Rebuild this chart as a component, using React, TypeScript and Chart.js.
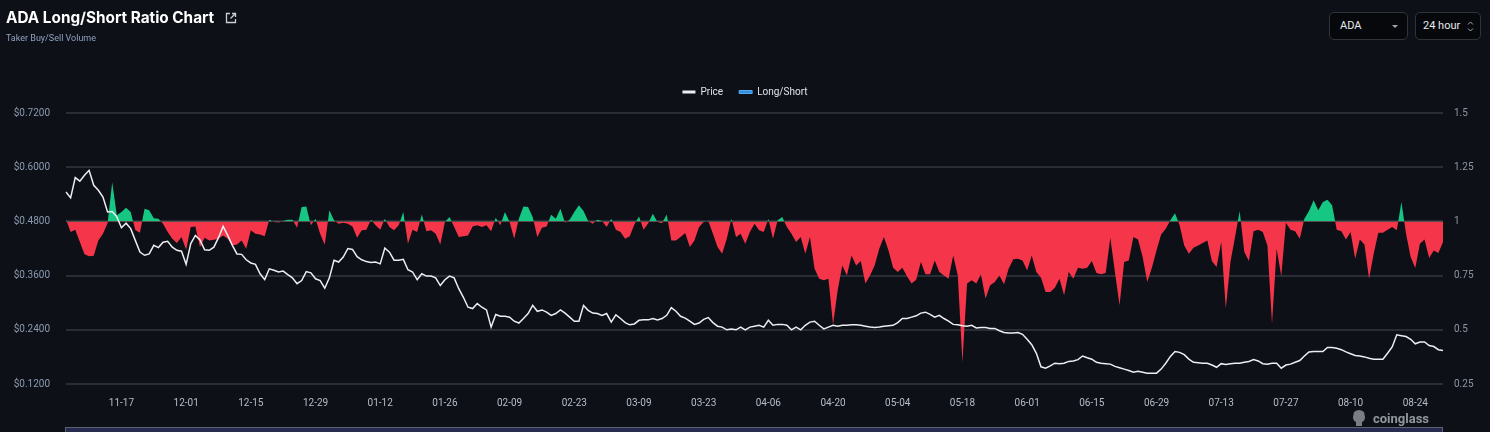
import React, { useEffect, useRef } from "react";
import { Chart, registerables } from "chart.js";

Chart.register(...registerables);

// ---- data -------------------------------------------------------------
const startYear = 2022;
const startMonthIndex = 10; // November
const startDay = 5;

const tickLabels = [
  "11-17", "12-01", "12-15", "12-29", "01-12", "01-26", "02-09", "02-23",
  "03-09", "03-23", "04-06", "04-20", "05-04", "05-18", "06-01", "06-15",
  "06-29", "07-13", "07-27", "08-10", "08-24",
];

const priceTickValues = [0.12, 0.24, 0.36, 0.48, 0.6, 0.72];
const ratioTickValues = [0.25, 0.5, 0.75, 1, 1.25, 1.5];

const priceValues = [
  0.545, 0.532, 0.577, 0.569, 0.582, 0.593, 0.560, 0.549, 0.534, 0.501,
  0.502, 0.490, 0.466, 0.476, 0.464, 0.438, 0.412, 0.405, 0.408, 0.427,
  0.422, 0.434, 0.436, 0.423, 0.416, 0.414, 0.385, 0.431, 0.449, 0.439,
  0.417, 0.416, 0.423, 0.444, 0.469, 0.449, 0.427, 0.408, 0.407, 0.395,
  0.388, 0.385, 0.364, 0.351, 0.375, 0.372, 0.368, 0.370, 0.362, 0.355,
  0.342, 0.349, 0.369, 0.366, 0.353, 0.349, 0.332, 0.355, 0.394, 0.390,
  0.401, 0.420, 0.418, 0.402, 0.395, 0.391, 0.389, 0.390, 0.386, 0.421,
  0.412, 0.394, 0.394, 0.396, 0.373, 0.368, 0.351, 0.364, 0.359, 0.359,
  0.355, 0.338, 0.351, 0.359, 0.355, 0.331, 0.312, 0.290, 0.287, 0.298,
  0.290, 0.284, 0.246, 0.274, 0.270, 0.270, 0.268, 0.259, 0.255, 0.265,
  0.276, 0.294, 0.281, 0.284, 0.279, 0.272, 0.276, 0.284, 0.277, 0.268,
  0.259, 0.259, 0.294, 0.283, 0.277, 0.276, 0.272, 0.276, 0.257, 0.273,
  0.265, 0.256, 0.251, 0.253, 0.261, 0.262, 0.262, 0.265, 0.262, 0.265,
  0.272, 0.289, 0.281, 0.270, 0.266, 0.259, 0.252, 0.255, 0.263, 0.267,
  0.256, 0.248, 0.246, 0.240, 0.242, 0.240, 0.246, 0.240, 0.246, 0.248,
  0.250, 0.246, 0.261, 0.250, 0.252, 0.252, 0.250, 0.240, 0.246, 0.240,
  0.250, 0.257, 0.259, 0.250, 0.242, 0.246, 0.250, 0.248, 0.250, 0.250,
  0.251, 0.251, 0.250, 0.248, 0.246, 0.245, 0.246, 0.248, 0.249, 0.250,
  0.256, 0.265, 0.265, 0.268, 0.271, 0.277, 0.279, 0.274, 0.268, 0.272,
  0.265, 0.259, 0.252, 0.251, 0.249, 0.248, 0.250, 0.244, 0.245, 0.245,
  0.243, 0.243, 0.238, 0.234, 0.233, 0.233, 0.234, 0.230, 0.219, 0.207,
  0.188, 0.158, 0.155, 0.160, 0.166, 0.165, 0.166, 0.170, 0.171, 0.174,
  0.182, 0.178, 0.175, 0.168, 0.166, 0.165, 0.164, 0.159, 0.156, 0.153,
  0.150, 0.146, 0.148, 0.146, 0.144, 0.144, 0.144, 0.153, 0.166, 0.181,
  0.192, 0.190, 0.185, 0.175, 0.168, 0.167, 0.166, 0.166, 0.162, 0.157,
  0.165, 0.163, 0.165, 0.166, 0.166, 0.168, 0.170, 0.174, 0.171, 0.165,
  0.164, 0.166, 0.166, 0.155, 0.162, 0.164, 0.168, 0.172, 0.182, 0.191,
  0.192, 0.192, 0.192, 0.201, 0.201, 0.199, 0.196, 0.191, 0.187, 0.183,
  0.182, 0.180, 0.177, 0.175, 0.175, 0.175, 0.188, 0.202, 0.229, 0.227,
  0.225, 0.219, 0.209, 0.213, 0.213, 0.205, 0.203, 0.196, 0.194,
];

const longShortValues = [
  1.010, 0.951, 0.962, 0.905, 0.848, 0.839, 0.842, 0.912, 0.943, 0.992,
  1.181, 1.028, 1.043, 1.063, 1.043, 0.960, 0.948, 1.058, 1.051, 1.015,
  1.012, 0.989, 0.951, 0.920, 0.900, 0.928, 0.869, 0.974, 0.977, 0.882,
  0.925, 0.912, 0.915, 0.920, 0.935, 0.920, 0.889, 0.894, 0.912, 0.874,
  0.959, 0.943, 0.940, 0.931, 1.008, 0.997, 0.995, 1.002, 1.008, 1.008,
  0.971, 1.066, 1.069, 0.982, 1.012, 0.943, 0.892, 1.051, 1.005, 0.989,
  0.994, 0.989, 0.977, 0.925, 0.959, 0.962, 1.008, 0.982, 0.962, 1.012,
  0.974, 0.959, 0.982, 1.043, 0.897, 0.962, 0.951, 1.032, 0.955, 0.959,
  0.943, 0.894, 0.997, 1.020, 0.974, 0.928, 0.931, 0.935, 0.977, 0.982,
  0.974, 0.982, 0.955, 1.017, 0.982, 1.043, 0.997, 0.920, 1.012, 1.069,
  1.066, 1.020, 0.928, 0.971, 0.977, 1.031, 1.012, 1.058, 0.994, 1.008,
  1.043, 1.074, 1.048, 1.002, 0.989, 1.008, 1.002, 0.974, 1.012, 0.962,
  0.951, 0.920, 0.931, 0.986, 1.023, 0.962, 0.992, 1.035, 0.997, 0.992,
  1.032, 0.912, 0.912, 0.928, 0.946, 0.882, 0.912, 0.974, 0.997, 1.002,
  0.943, 0.882, 0.851, 0.920, 1.012, 0.928, 0.943, 0.897, 0.951, 0.989,
  0.959, 0.951, 1.012, 0.920, 1.005, 1.020, 0.974, 0.943, 0.905, 0.928,
  0.851, 0.928, 0.782, 0.736, 0.728, 0.736, 0.525, 0.682, 0.797, 0.751,
  0.843, 0.797, 0.817, 0.713, 0.751, 0.797, 0.874, 0.928, 0.866, 0.786,
  0.767, 0.786, 0.747, 0.713, 0.731, 0.813, 0.756, 0.756, 0.820, 0.767,
  0.751, 0.736, 0.843, 0.751, 0.350, 0.713, 0.728, 0.713, 0.756, 0.644,
  0.705, 0.720, 0.751, 0.710, 0.782, 0.825, 0.828, 0.820, 0.774, 0.843,
  0.767, 0.740, 0.674, 0.674, 0.694, 0.736, 0.659, 0.767, 0.736, 0.786,
  0.782, 0.786, 0.817, 0.762, 0.756, 0.762, 0.925, 0.767, 0.613, 0.813,
  0.820, 0.928, 0.916, 0.836, 0.720, 0.786, 0.866, 0.940, 0.966, 1.005,
  1.038, 0.982, 0.889, 0.851, 0.879, 0.889, 0.900, 0.912, 0.816, 0.790,
  0.905, 0.598, 0.813, 0.928, 1.048, 0.859, 0.817, 0.955, 0.962, 0.951,
  0.889, 0.528, 0.874, 0.747, 0.994, 0.962, 0.955, 0.920, 1.012, 1.048,
  1.097, 1.051, 1.089, 1.100, 1.074, 0.962, 0.955, 0.916, 0.951, 0.828,
  0.916, 0.894, 0.736, 0.851, 0.948, 0.948, 0.962, 0.974, 0.959, 1.089,
  0.943, 0.836, 0.785, 0.897, 0.916, 0.831, 0.866, 0.854, 0.905,
];

function buildDateLabels(count: number): string[] {
  const out: string[] = [];
  const d = new Date(Date.UTC(startYear, startMonthIndex, startDay));
  for (let i = 0; i < count; i++) {
    const mm = String(d.getUTCMonth() + 1).padStart(2, "0");
    const dd = String(d.getUTCDate()).padStart(2, "0");
    out.push(`${mm}-${dd}`);
    d.setUTCDate(d.getUTCDate() + 1);
  }
  return out;
}

const BG = "#0d1017";
const AXIS_FONT = { family: "Roboto, 'DejaVu Sans', sans-serif", size: 10 };

// adds empty space under the legend, between it and the plot area
const legendGapPlugin = {
  id: "legendGap",
  beforeLayout(chart: any) {
    const lg = chart.legend;
    if (lg && !lg.__gapPatched) {
      const orig = lg.fit.bind(lg);
      lg.fit = () => {
        orig();
        lg.height += 6;
      };
      lg.__gapPatched = true;
    }
  },
};

function ChartCanvas() {
  const ref = useRef<HTMLCanvasElement | null>(null);

  useEffect(() => {
    if (!ref.current) return;
    const labels = buildDateLabels(priceValues.length);
    const chart = new Chart(ref.current, {
      type: "line",
      plugins: [legendGapPlugin],
      data: {
        labels,
        datasets: [
          {
            label: "Price",
            data: priceValues,
            yAxisID: "y",
            borderColor: "#eceef2",
            backgroundColor: "#eceef2",
            borderWidth: 1.5,
            pointRadius: 0,
            tension: 0,
            fill: false,
          },
          {
            label: "Long/Short",
            data: longShortValues,
            yAxisID: "y1",
            borderColor: "rgba(0,0,0,0)",
            backgroundColor: "#2b8fe6",
            borderWidth: 0,
            pointRadius: 0,
            tension: 0,
            fill: { target: { value: 1 }, above: "#16c784", below: "#f5364a" },
          } as any,
        ],
      },
      options: {
        responsive: false,
        animation: false,
        events: [],
        layout: { padding: { top: 71, left: 0, right: 0, bottom: 0 } },
        plugins: {
          tooltip: { enabled: false },
          legend: {
            position: "top",
            align: "center",
            labels: {
              boxWidth: 13,
              boxHeight: 3,
              padding: 16,
              color: "#dfe3ea",
              font: AXIS_FONT,
              generateLabels: (c: any) =>
                (Chart.defaults.plugins.legend.labels.generateLabels as any)(c).map((l: any) =>
                  l.text === "Price"
                    ? { ...l, lineWidth: 0 }
                    : { ...l, lineWidth: 1, strokeStyle: "#5aa9ee" }
                ),
            },
          },
        },
        scales: {
          x: {
            type: "category",
            grid: { display: false, drawTicks: false },
            border: { display: false },
            ticks: {
              autoSkip: false,
              maxRotation: 0,
              minRotation: 0,
              padding: 13,
              color: "#b5bdc9",
              font: AXIS_FONT,
              callback: (_v: any, index: number) =>
                tickLabels.includes(labels[index]) ? labels[index] : "",
            },
            afterFit: (s: any) => {
              s.height = 48;
            },
          },
          y: {
            position: "left",
            min: 0.12,
            max: 0.72,
            grid: { color: "#2a2d35", lineWidth: 2, drawTicks: false },
            border: { display: false },
            ticks: {
              padding: 16,
              color: "#8b9bb1",
              font: AXIS_FONT,
              callback: (v: any) => "$" + Number(v).toFixed(4),
            },
            afterBuildTicks: (s: any) => {
              s.ticks = priceTickValues.map((v) => ({ value: v }));
            },
            afterFit: (s: any) => {
              s.width = 66;
            },
          },
          y1: {
            position: "right",
            min: 0.25,
            max: 1.5,
            grid: { display: false, drawTicks: false },
            border: { display: false },
            ticks: {
              padding: 11,
              color: "#8e97a5",
              font: AXIS_FONT,
              callback: (v: any) => String(v),
            },
            afterBuildTicks: (s: any) => {
              s.ticks = ratioTickValues.map((v) => ({ value: v }));
            },
            afterFit: (s: any) => {
              s.width = 47;
            },
          },
        },
      } as any,
    });
    return () => chart.destroy();
  }, []);

  return (
    <canvas
      ref={ref}
      width={1490}
      height={432}
      style={{ position: "absolute", left: 0, top: 0, width: 1490, height: 432 }}
    />
  );
}

export default function App() {
  const box: React.CSSProperties = {
    position: "absolute",
    top: 12,
    height: 28,
    boxSizing: "border-box",
    border: "1px solid #30343c",
    borderRadius: 5,
    background: "#06080c",
    color: "#e6e9ee",
    fontFamily: "Roboto, sans-serif",
    fontSize: 11,
    lineHeight: "26px",
  };
  return (
    <div
      style={{
        position: "fixed",
        left: 0,
        top: 0,
        width: 1490,
        height: 432,
        background: BG,
        overflow: "hidden",
        fontFamily: "Roboto, sans-serif",
      }}
    >
      <ChartCanvas />
      <div
        style={{
          position: "absolute",
          left: 6,
          top: 8,
          fontFamily: "Inter, Roboto, sans-serif",
          fontWeight: 700,
          fontSize: 15.3,
          lineHeight: "20px",
          color: "#ffffff",
          whiteSpace: "nowrap",
        }}
      >
        ADA Long/Short Ratio Chart
      </div>
      <svg
        style={{ position: "absolute", left: 225, top: 12 }}
        width={12}
        height={12}
        viewBox="0 0 12 12"
        fill="none"
        stroke="#c9ced6"
        strokeWidth={1.3}
      >
        <path d="M5 1.5H1.5v9h9V7" />
        <path d="M7 1.5h3.5V5M10.5 1.5L5.5 6.5" />
      </svg>
      <div
        style={{
          position: "absolute",
          left: 6,
          top: 32,
          fontSize: 9,
          lineHeight: "12px",
          color: "#8ea2bf",
          whiteSpace: "nowrap",
        }}
      >
        Taker Buy/Sell Volume
      </div>

      <div style={{ ...box, left: 1329, width: 79, paddingLeft: 10 }}>
        ADA
        <div
          style={{
            position: "absolute",
            left: 62,
            top: 12,
            width: 0,
            height: 0,
            borderLeft: "3px solid transparent",
            borderRight: "3px solid transparent",
            borderTop: "3px solid #a0a6b0",
          }}
        />
      </div>
      <div style={{ ...box, left: 1415, width: 66, paddingLeft: 7 }}>
        24 hour
        <svg
          style={{ position: "absolute", left: 51, top: 7 }}
          width={7}
          height={13}
          viewBox="0 0 7 13"
          fill="none"
          stroke="#a0a6b0"
          strokeWidth={1}
        >
          <path d="M1 4.5L3.5 2L6 4.5" />
          <path d="M1 8.5L3.5 11L6 8.5" />
        </svg>
      </div>

      <svg
        style={{ position: "absolute", left: 1351, top: 408 }}
        width={16}
        height={20}
        viewBox="0 0 16 20"
      >
        <path
          d="M3 4 Q8 0 13 4 L14 9 Q14 13 11 14 L11 18 L5 18 L5 14 Q2 13 2 9 Z"
          fill="#9ea3aa"
          opacity={0.75}
        />
      </svg>
      <div
        style={{
          position: "absolute",
          left: 1373,
          top: 411,
          fontFamily: "Roboto, sans-serif",
          fontWeight: 700,
          fontSize: 13,
          lineHeight: "16px",
          color: "rgba(190,195,202,0.75)",
          whiteSpace: "nowrap",
        }}
      >
        coinglass
      </div>
      <div
        style={{
          position: "absolute",
          left: 65,
          top: 427,
          width: 1378,
          height: 12,
          boxSizing: "border-box",
          border: "1px solid #5c6274",
          background: "#262b4f",
        }}
      />
    </div>
  );
}
